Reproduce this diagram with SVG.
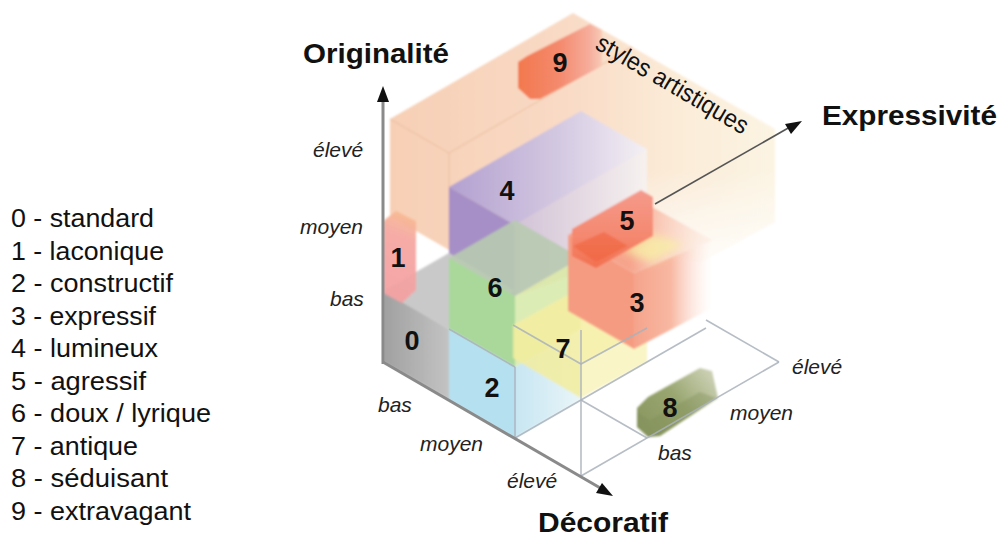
<svg xmlns="http://www.w3.org/2000/svg" width="1002" height="540" viewBox="0 0 1002 540">
<style>
.leg{font-family:"Liberation Sans",Arial,sans-serif;font-size:25px;fill:#111}
.title{font-family:"Liberation Sans",Arial,sans-serif;font-size:28px;font-weight:bold;fill:#111}
.lvl{font-family:"Liberation Sans",Arial,sans-serif;font-size:21px;font-style:italic;fill:#222}
.num{font-family:"Liberation Sans",Arial,sans-serif;font-size:27px;font-weight:bold;fill:#111;text-anchor:middle}
.grid{stroke:#a9b1bb;stroke-width:1.6;fill:none;opacity:.85}
.axis{stroke:#8a8a8a;stroke-width:3;fill:none}
.edge{stroke:#ecc2a6;stroke-width:1.2;fill:none}
</style>
<defs>
<filter id="soft" x="-10%" y="-10%" width="120%" height="120%"><feGaussianBlur stdDeviation="1.2"/></filter>
<filter id="glow" x="-30%" y="-30%" width="160%" height="160%"><feGaussianBlur stdDeviation="4"/></filter>
<linearGradient id="gPeach" gradientUnits="userSpaceOnUse" x1="390" y1="0" x2="775" y2="0">
<stop offset="0" stop-color="#f7cfb5"/><stop offset="0.45" stop-color="#f9dac5"/><stop offset="0.75" stop-color="#fbecd8"/><stop offset="1" stop-color="#fcf4e3"/></linearGradient>
<linearGradient id="gFadeW" gradientUnits="userSpaceOnUse" x1="0" y1="170" x2="0" y2="265">
<stop offset="0" stop-color="#fff" stop-opacity="0"/><stop offset="1" stop-color="#fff" stop-opacity="0.9"/></linearGradient>
<linearGradient id="gPurTop" gradientUnits="userSpaceOnUse" x1="449" y1="0" x2="647" y2="0">
<stop offset="0" stop-color="#b3a0d0"/><stop offset="0.55" stop-color="#d3c8e1"/><stop offset="1" stop-color="#f4f0f4"/></linearGradient>
<linearGradient id="gPurFront" gradientUnits="userSpaceOnUse" x1="515" y1="0" x2="647" y2="0">
<stop offset="0" stop-color="#cbbfdb"/><stop offset="1" stop-color="#f6f3f4"/></linearGradient>
<linearGradient id="gGray" gradientUnits="userSpaceOnUse" x1="383" y1="0" x2="449" y2="0">
<stop offset="0" stop-color="#a0a0a0"/><stop offset="1" stop-color="#c3c3c3"/></linearGradient>
<linearGradient id="gPink" gradientUnits="userSpaceOnUse" x1="383" y1="300" x2="416" y2="212">
<stop offset="0" stop-color="#f3a0a2"/><stop offset="0.7" stop-color="#f5a7a2"/><stop offset="1" stop-color="#f8bf8e"/></linearGradient>
<linearGradient id="gBlueF" gradientUnits="userSpaceOnUse" x1="515" y1="0" x2="581" y2="0">
<stop offset="0" stop-color="#c2e4f1"/><stop offset="1" stop-color="#e8f5f8"/></linearGradient>
<linearGradient id="gSalR" gradientUnits="userSpaceOnUse" x1="630" y1="0" x2="712" y2="0">
<stop offset="0" stop-color="#f6a189"/><stop offset="0.5" stop-color="#f8b8a2"/><stop offset="1" stop-color="#fde6dc" stop-opacity="0"/></linearGradient>
<linearGradient id="gSalT" gradientUnits="userSpaceOnUse" x1="630" y1="0" x2="704" y2="0">
<stop offset="0" stop-color="#f6a48c"/><stop offset="1" stop-color="#fbd8c8" stop-opacity="0.3"/></linearGradient>
<linearGradient id="g5" gradientUnits="userSpaceOnUse" x1="0" y1="190" x2="0" y2="268">
<stop offset="0" stop-color="#f59a8c"/><stop offset="0.6" stop-color="#f4886f"/><stop offset="1" stop-color="#f2704f"/></linearGradient>
<linearGradient id="g8" gradientUnits="userSpaceOnUse" x1="640" y1="432" x2="716" y2="370">
<stop offset="0" stop-color="#899660"/><stop offset="0.5" stop-color="#99a670"/><stop offset="1" stop-color="#d2d6bd"/></linearGradient>
<linearGradient id="g9" gradientUnits="userSpaceOnUse" x1="518" y1="0" x2="602" y2="0">
<stop offset="0" stop-color="#f3784e"/><stop offset="0.5" stop-color="#f48a6e"/><stop offset="0.85" stop-color="#f6ad9c"/><stop offset="1" stop-color="#f8cbb6"/></linearGradient>
</defs>

<g id="shapes" filter="url(#soft)">
<g id="styles-artistiques">
<polygon points="390,119 573,13 775,129 775,222 700,262 640,250 515,296 449,250 390,216" fill="url(#gPeach)"/>
<polygon points="632,144 775,129 775,222 700,262 640,250" fill="url(#gFadeW)"/>
<polyline class="edge" points="390,119 449,153 632,47"/>
<line class="edge" x1="449" y1="153" x2="449" y2="250"/>
</g>
<g id="node-4">
<polygon points="449,187 581,111 647,149 515,225" fill="url(#gPurTop)"/>
<polygon points="515,225 647,149 647,220 515,296" fill="url(#gPurFront)" opacity="0.85"/>
<polygon points="449,187 515,225 515,296 449,258" fill="#a68fc6"/>
</g>
<g id="node-9">
<polygon points="518,62 527,56 590,24 602,30 602,66 540,99 530,99 518,88" fill="url(#g9)"/>
</g>
<g id="node-0">
<polygon points="383,291 449,253 515,291 449,329" fill="#c9c9c9"/>
<polygon points="383,291 449,329 449,400 383,362" fill="url(#gGray)"/>
</g>
<g id="node-6">
<polygon points="449,258 515,220 581,258 515,296" fill="#b8cab0" opacity="0.9"/>
<polygon points="515,296 581,258 581,329 515,367" fill="#d6e9a8" opacity="0.85"/>
<polygon points="449,258 515,296 515,367 449,329" fill="#a9d89a"/>
</g>
<g id="node-1">
<polygon points="383,221 396,211 416,221 416,290 402,303 383,293" fill="url(#gPink)" opacity="0.95"/>
</g>
<g id="node-2">
<polygon points="515,367 581,329 581,400 515,438" fill="url(#gBlueF)" opacity="0.9"/>
<polygon points="449,329 515,367 515,438 449,400" fill="#b5e0ef"/>
</g>
<g id="node-7">
<polygon points="513,325 580,288 647,328 581,364" fill="#f6efa2" opacity="0.85"/>
<polygon points="513,325 581,364 581,398 513,358" fill="#f3ed9e" opacity="0.85"/>
<polygon points="581,364 647,328 647,362 581,398" fill="#f8f3b8" opacity="0.8"/>
</g>
<g id="node-3">
<polygon points="568,235 634,273 634,349 568,311" fill="#f59b82"/>
<polygon points="568,235 634,197 712,240 634,273" fill="url(#gSalT)"/>
<polygon points="634,273 712,240 712,308 634,349" fill="url(#gSalR)"/>
</g>
<g id="node-5">
<polygon points="622,250 653,234 684,244 652,263" fill="#f8efa6" opacity="0.8" filter="url(#glow)"/>
<polygon points="572,229 641,190 653,197 653,236 596,268 572,256" fill="url(#g5)"/>
<polygon points="573,246 596,262 628,246 604,232" fill="#f0633e" opacity="0.6"/>
</g>
<g id="node-8">
<polygon points="637,408 648,397 700,368 712,371 718,398 660,436 648,437 637,427" fill="url(#g8)"/>
<polygon points="637,412 650,420 700,392 716,398 660,436 648,437 637,427" fill="#7f8d55" opacity="0.35"/>
</g>
</g>

<g id="connectors">
<g id="floor-grid">
<line class="grid" x1="581" y1="476" x2="779" y2="362"/>
<line class="grid" x1="779" y1="362" x2="706" y2="320"/>
<line class="grid" x1="515" y1="438" x2="706" y2="328"/>
<line class="grid" x1="581" y1="400" x2="647" y2="438"/>
<line class="grid" x1="581" y1="330" x2="581" y2="476"/>
<line class="grid" x1="515" y1="367" x2="515" y2="438"/>
<polyline class="grid" points="513,325 581,364 647,328"/>
<line class="grid" x1="449" y1="329" x2="515" y2="367"/>
</g>
<g id="axis-originalite">
<line class="axis" x1="383" y1="364" x2="383" y2="98"/>
<polygon points="383,86 377,102 389,102" fill="#111"/>
</g>
<g id="axis-decoratif">
<line class="axis" x1="383" y1="362" x2="602" y2="489" stroke="#777"/>
<polygon points="613,496 596,493 602,483" fill="#111"/>
</g>
<g id="axis-expressivite">
<line x1="655" y1="204" x2="790" y2="127" stroke="#555" stroke-width="1.6"/>
<polygon points="802,121 785,124 791,134" fill="#111"/>
</g>
</g>

<g id="labels">
<text class="title" x="303" y="63" textLength="146" lengthAdjust="spacingAndGlyphs">Originalité</text>
<text class="title" x="822" y="125" textLength="175" lengthAdjust="spacingAndGlyphs">Expressivité</text>
<text class="title" x="538" y="532" textLength="130" lengthAdjust="spacingAndGlyphs">Décoratif</text>
<text class="lvl" x="313" y="157">élevé</text>
<text class="lvl" x="300" y="234">moyen</text>
<text class="lvl" x="330" y="306">bas</text>
<text class="lvl" x="378" y="412">bas</text>
<text class="lvl" x="420" y="451">moyen</text>
<text class="lvl" x="507" y="488">élevé</text>
<text class="lvl" x="792" y="374">élevé</text>
<text class="lvl" x="730" y="420">moyen</text>
<text class="lvl" x="658" y="460">bas</text>
<text class="leg" transform="translate(594,48) rotate(30.3)" x="0" y="0" font-size="22" textLength="172" lengthAdjust="spacingAndGlyphs">styles artistiques</text>
<text class="num" x="412" y="350">0</text>
<text class="num" x="398" y="267">1</text>
<text class="num" x="492" y="397">2</text>
<text class="num" x="637" y="312">3</text>
<text class="num" x="507" y="200">4</text>
<text class="num" x="627" y="230">5</text>
<text class="num" x="495" y="297">6</text>
<text class="num" x="563" y="358">7</text>
<text class="num" x="670" y="417">8</text>
<text class="num" x="560" y="72">9</text>
</g>

<g id="legend">
<text class="leg" x="11" y="227" textLength="143" lengthAdjust="spacingAndGlyphs">0 - standard</text>
<text class="leg" x="11" y="259.5" textLength="153" lengthAdjust="spacingAndGlyphs">1 - laconique</text>
<text class="leg" x="11" y="292" textLength="162" lengthAdjust="spacingAndGlyphs">2 - constructif</text>
<text class="leg" x="11" y="324.5" textLength="145" lengthAdjust="spacingAndGlyphs">3 - expressif</text>
<text class="leg" x="11" y="357" textLength="147" lengthAdjust="spacingAndGlyphs">4 - lumineux</text>
<text class="leg" x="11" y="389.5" textLength="135" lengthAdjust="spacingAndGlyphs">5 - agressif</text>
<text class="leg" x="11" y="422" textLength="200" lengthAdjust="spacingAndGlyphs">6 - doux / lyrique</text>
<text class="leg" x="11" y="454.5" textLength="127" lengthAdjust="spacingAndGlyphs">7 - antique</text>
<text class="leg" x="11" y="487" textLength="157" lengthAdjust="spacingAndGlyphs">8 - séduisant</text>
<text class="leg" x="11" y="519.5" textLength="180" lengthAdjust="spacingAndGlyphs">9 - extravagant</text>
</g>
</svg>
